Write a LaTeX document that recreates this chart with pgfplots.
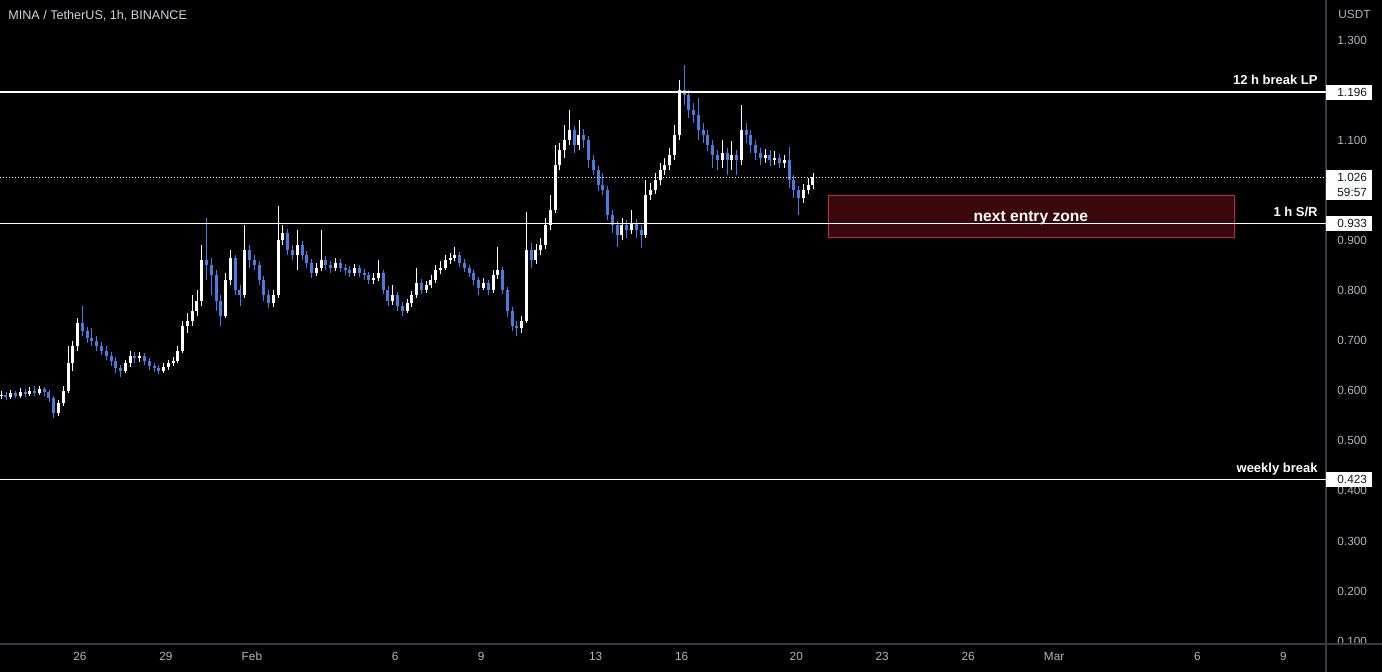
\documentclass[border=0pt]{standalone}
\usepackage{pgfplots}
\pgfplotsset{compat=1.18}
\usepackage{pgfplotstable}
\usepackage{fontspec}
\setmainfont{Liberation Sans}
\definecolor{upc}{RGB}{255,255,255}
\definecolor{dnc}{RGB}{72,124,224}
\definecolor{tickc}{RGB}{178,181,190}
\definecolor{titlec}{RGB}{209,212,220}
\definecolor{sepc}{RGB}{54,58,69}
\definecolor{zonefill}{RGB}{58,7,12}
\definecolor{zonedraw}{RGB}{190,45,58}
\definecolor{boxtext}{RGB}{19,23,34}
\newcommand{\tickfont}{\fontsize{5.9}{7}\selectfont}
\newcommand{\labfont}{\bfseries\fontsize{6.5}{7.8}\selectfont}

\pgfplotstableread{
i o h l c
0 0.590 0.600 0.584 0.592
1 0.592 0.598 0.582 0.588
2 0.588 0.602 0.584 0.595
3 0.595 0.600 0.585 0.590
4 0.590 0.606 0.586 0.598
5 0.598 0.604 0.588 0.593
6 0.593 0.608 0.589 0.600
7 0.600 0.610 0.590 0.596
8 0.596 0.610 0.592 0.604
9 0.604 0.608 0.590 0.598
10 0.598 0.602 0.578 0.585
11 0.585 0.590 0.545 0.555
12 0.555 0.582 0.550 0.575
13 0.575 0.610 0.570 0.600
14 0.600 0.690 0.595 0.655
15 0.655 0.700 0.640 0.690
16 0.690 0.745 0.680 0.735
17 0.735 0.770 0.710 0.720
18 0.720 0.728 0.695 0.705
19 0.705 0.725 0.690 0.700
20 0.700 0.710 0.680 0.690
21 0.690 0.698 0.672 0.680
22 0.680 0.690 0.662 0.670
23 0.670 0.678 0.650 0.660
24 0.660 0.668 0.636 0.645
25 0.645 0.652 0.627 0.640
26 0.640 0.662 0.635 0.655
27 0.655 0.680 0.648 0.670
28 0.670 0.678 0.656 0.665
29 0.665 0.678 0.658 0.670
30 0.670 0.675 0.652 0.660
31 0.660 0.665 0.642 0.650
32 0.650 0.656 0.638 0.645
33 0.645 0.652 0.634 0.640
34 0.640 0.656 0.636 0.648
35 0.648 0.662 0.642 0.655
36 0.655 0.668 0.650 0.660
37 0.660 0.690 0.655 0.680
38 0.680 0.740 0.675 0.730
39 0.730 0.755 0.715 0.740
40 0.740 0.790 0.730 0.760
41 0.760 0.800 0.750 0.780
42 0.780 0.890 0.770 0.860
43 0.860 0.945 0.820 0.850
44 0.850 0.865 0.790 0.830
45 0.830 0.840 0.760 0.780
46 0.780 0.790 0.730 0.750
47 0.750 0.835 0.745 0.820
48 0.820 0.880 0.810 0.865
49 0.865 0.870 0.790 0.800
50 0.800 0.810 0.770 0.790
51 0.790 0.930 0.785 0.880
52 0.880 0.890 0.845 0.860
53 0.860 0.870 0.840 0.850
54 0.850 0.858 0.810 0.820
55 0.820 0.828 0.780 0.790
56 0.790 0.800 0.765 0.775
57 0.775 0.800 0.768 0.790
58 0.790 0.969 0.785 0.900
59 0.900 0.930 0.890 0.915
60 0.915 0.922 0.870 0.880
61 0.880 0.890 0.860 0.870
62 0.870 0.920 0.840 0.890
63 0.890 0.898 0.860 0.870
64 0.870 0.878 0.845 0.855
65 0.855 0.862 0.825 0.835
66 0.835 0.855 0.828 0.845
67 0.845 0.920 0.838 0.860
68 0.860 0.868 0.840 0.850
69 0.850 0.858 0.835 0.845
70 0.845 0.865 0.838 0.855
71 0.855 0.862 0.836 0.845
72 0.845 0.852 0.830 0.840
73 0.840 0.848 0.826 0.835
74 0.835 0.852 0.828 0.845
75 0.845 0.850 0.826 0.835
76 0.835 0.842 0.820 0.830
77 0.830 0.836 0.812 0.820
78 0.820 0.834 0.812 0.825
79 0.825 0.860 0.818 0.835
80 0.835 0.840 0.792 0.800
81 0.800 0.808 0.770 0.780
82 0.780 0.810 0.772 0.790
83 0.790 0.796 0.760 0.770
84 0.770 0.778 0.750 0.760
85 0.760 0.782 0.755 0.775
86 0.775 0.798 0.768 0.790
87 0.790 0.845 0.785 0.815
88 0.815 0.822 0.792 0.800
89 0.800 0.818 0.795 0.810
90 0.810 0.830 0.804 0.820
91 0.820 0.850 0.815 0.840
92 0.840 0.858 0.832 0.845
93 0.845 0.870 0.840 0.860
94 0.860 0.875 0.852 0.865
95 0.865 0.887 0.858 0.870
96 0.870 0.876 0.846 0.855
97 0.855 0.862 0.836 0.845
98 0.845 0.850 0.826 0.835
99 0.835 0.840 0.810 0.820
100 0.820 0.826 0.790 0.805
101 0.805 0.825 0.800 0.815
102 0.815 0.820 0.790 0.800
103 0.800 0.840 0.795 0.830
104 0.830 0.887 0.822 0.840
105 0.840 0.846 0.792 0.800
106 0.800 0.806 0.748 0.760
107 0.760 0.768 0.720 0.730
108 0.730 0.740 0.710 0.725
109 0.725 0.750 0.715 0.740
110 0.740 0.957 0.735 0.880
111 0.880 0.895 0.845 0.860
112 0.860 0.892 0.852 0.880
113 0.880 0.905 0.870 0.890
114 0.890 0.945 0.882 0.930
115 0.930 0.990 0.920 0.960
116 0.960 1.090 0.955 1.050
117 1.050 1.095 1.040 1.080
118 1.080 1.130 1.065 1.100
119 1.100 1.160 1.090 1.120
120 1.120 1.128 1.075 1.090
121 1.090 1.140 1.080 1.110
122 1.110 1.122 1.085 1.100
123 1.100 1.108 1.045 1.060
124 1.060 1.070 1.030 1.040
125 1.040 1.048 0.998 1.010
126 1.010 1.035 0.990 1.000
127 1.000 1.008 0.940 0.950
128 0.950 0.960 0.915 0.930
129 0.930 0.938 0.887 0.910
130 0.910 0.945 0.900 0.930
131 0.930 0.940 0.905 0.920
132 0.920 0.960 0.912 0.935
133 0.935 0.942 0.905 0.920
134 0.920 0.930 0.885 0.910
135 0.910 1.020 0.905 0.990
136 0.990 1.015 0.980 1.000
137 1.000 1.035 0.992 1.020
138 1.020 1.055 1.010 1.040
139 1.040 1.065 1.030 1.050
140 1.050 1.085 1.040 1.070
141 1.070 1.130 1.060 1.110
142 1.110 1.220 1.100 1.200
143 1.200 1.250 1.170 1.190
144 1.190 1.200 1.145 1.160
145 1.160 1.175 1.135 1.150
146 1.150 1.185 1.100 1.120
147 1.120 1.135 1.095 1.110
148 1.110 1.120 1.078 1.090
149 1.090 1.100 1.045 1.070
150 1.070 1.080 1.040 1.060
151 1.060 1.100 1.045 1.075
152 1.075 1.085 1.030 1.060
153 1.060 1.098 1.040 1.070
154 1.070 1.080 1.030 1.060
155 1.060 1.170 1.050 1.120
156 1.120 1.135 1.095 1.110
157 1.110 1.120 1.075 1.090
158 1.090 1.100 1.060 1.075
159 1.075 1.085 1.050 1.065
160 1.065 1.082 1.055 1.070
161 1.070 1.080 1.048 1.060
162 1.060 1.078 1.050 1.065
163 1.065 1.072 1.045 1.055
164 1.055 1.070 1.045 1.060
165 1.060 1.086 1.005 1.020
166 1.020 1.030 0.985 1.000
167 1.000 1.008 0.950 0.985
168 0.985 1.012 0.975 1.000
169 1.000 1.025 0.992 1.010
170 1.010 1.035 1.002 1.026
}\candles

\begin{document}
\begin{tikzpicture}
\fill[black] (0pt,0pt) rectangle (691pt,-336pt);
\begin{axis}[
  at={(0pt,0pt)}, anchor=north west,
  scale only axis, width=663pt, height=322pt,
  xmin=23.208, xmax=69.49, ymin=0.0944, ymax=1.3798,
  clip=false,
  axis x line*=bottom, axis y line*=right,
  axis line style={draw=sepc, line width=0.6pt, -},
  major tick length=0pt,
  xtick={26,29,32,37,40,44,47,51,54,57,60,65,68},
  xticklabels={26,29,Feb,6,9,13,16,20,23,26,Mar,6,9},
  ytick={0.1,0.2,0.3,0.4,0.5,0.6,0.7,0.8,0.9,1.0,1.1,1.2,1.3},
  /pgf/number format/assume math mode=true,
  yticklabel style={anchor=west, inner sep=0pt, xshift=5.5pt, font=\tickfont, text=tickc,
    /pgf/number format/.cd, fixed, fixed zerofill, precision=3},
  xticklabel style={anchor=base, inner sep=0pt, yshift=-8.5pt, font=\tickfont, text=tickc},
]
% entry zone
\addplot[fill=zonefill, draw=zonedraw, line width=0.5pt, mark=none]
  coordinates {(52.108,0.9048) (66.28,0.9048) (66.28,0.9886) (52.108,0.9886) (52.108,0.9048)};
% candles: wicks
\addplot[upc, line width=0.45pt, mark=none, quiver={u=0, v=\thisrow{h}-\thisrow{l}},
  restrict expr to domain={\thisrow{c}-\thisrow{o}}{0:10}]
  table[x expr=23.25+\thisrow{i}/6, y=l] {\candles};
\addplot[dnc, line width=0.45pt, mark=none, quiver={u=0, v=\thisrow{h}-\thisrow{l}},
  restrict expr to domain={\thisrow{c}-\thisrow{o}}{-10:0}]
  table[x expr=23.25+\thisrow{i}/6, y=l] {\candles};
% candles: bodies
\addplot[upc, line width=1.5pt, mark=none, quiver={u=0, v=\thisrow{c}-\thisrow{o}},
  restrict expr to domain={\thisrow{c}-\thisrow{o}}{0:10}]
  table[x expr=23.25+\thisrow{i}/6, y=o] {\candles};
\addplot[dnc, line width=1.5pt, mark=none, quiver={u=0, v=\thisrow{o}-\thisrow{c}},
  restrict expr to domain={\thisrow{c}-\thisrow{o}}{-10:0}]
  table[x expr=23.25+\thisrow{i}/6, y=c] {\candles};
% horizontal levels
\addplot[white, line width=0.6pt, mark=none] coordinates {(23.208,1.196) (69.49,1.196)};
\addplot[white, line width=0.6pt, mark=none] coordinates {(23.208,0.933) (69.49,0.933)};
\addplot[white, line width=0.6pt, mark=none] coordinates {(23.208,0.423) (69.49,0.423)};
\addplot[white, line width=0.5pt, mark=none, dash pattern=on 0.55pt off 0.95pt] coordinates {(23.208,1.026) (69.49,1.026)};
% texts
\node[font=\bfseries\fontsize{7.8}{9}\selectfont, text=white] at (axis cs:59.19,0.9447) {next entry zone};
\node[font=\labfont, text=white, anchor=base east, inner sep=0pt, yshift=4pt] at (axis cs:69.21,1.196) {12 h break LP};
\node[font=\labfont, text=white, anchor=base east, inner sep=0pt, yshift=3.8pt] at (axis cs:69.21,0.933) {1 h S/R};
\node[font=\labfont, text=white, anchor=base east, inner sep=0pt, yshift=3.6pt] at (axis cs:69.21,0.423) {weekly break};
\coordinate (b1) at (axis cs:69.49,1.196);
\coordinate (b2) at (axis cs:69.49,1.026);
\coordinate (b3) at (axis cs:69.49,0.933);
\coordinate (b4) at (axis cs:69.49,0.423);
\end{axis}
\draw[sepc, line width=0.6pt] (663pt,-322pt) -- (691pt,-322pt);
\draw[sepc, line width=0.6pt] (663pt,-322pt) -- (663pt,-336pt);
% price boxes
\node[fill=white, anchor=west, inner xsep=0pt, inner ysep=0pt, minimum height=7.5pt, text width=23pt, align=left, font=\tickfont, text=boxtext] at (b1) {\hspace*{5.5pt}1.196};
\node[fill=white, anchor=north west, inner xsep=0pt, inner ysep=1.5pt, text width=23pt, align=left, font=\fontsize{5.9}{7.5}\selectfont, text=boxtext] at ([yshift=3.75pt]b2) {\hspace*{5.5pt}1.026\\\hspace*{5.5pt}59:57};
\node[fill=white, anchor=west, inner xsep=0pt, inner ysep=0pt, minimum height=7.5pt, text width=23pt, align=left, font=\tickfont, text=boxtext] at (b3) {\hspace*{5.5pt}0.933};
\node[fill=white, anchor=west, inner xsep=0pt, inner ysep=0pt, minimum height=7.5pt, text width=23pt, align=left, font=\tickfont, text=boxtext] at (b4) {\hspace*{5.5pt}0.423};
% title and unit
\node[anchor=west, inner sep=0pt, font=\fontsize{6.3}{7.5}\selectfont, text=titlec] at (4pt,-8pt) {MINA / TetherUS, 1h, BINANCE};
\node[anchor=west, inner sep=0pt, font=\tickfont, text=tickc] at (669pt,-7pt) {USDT};
\pgfresetboundingbox
\path[use as bounding box] (0pt,0pt) rectangle (691pt,-336pt);
\end{tikzpicture}
\end{document}
